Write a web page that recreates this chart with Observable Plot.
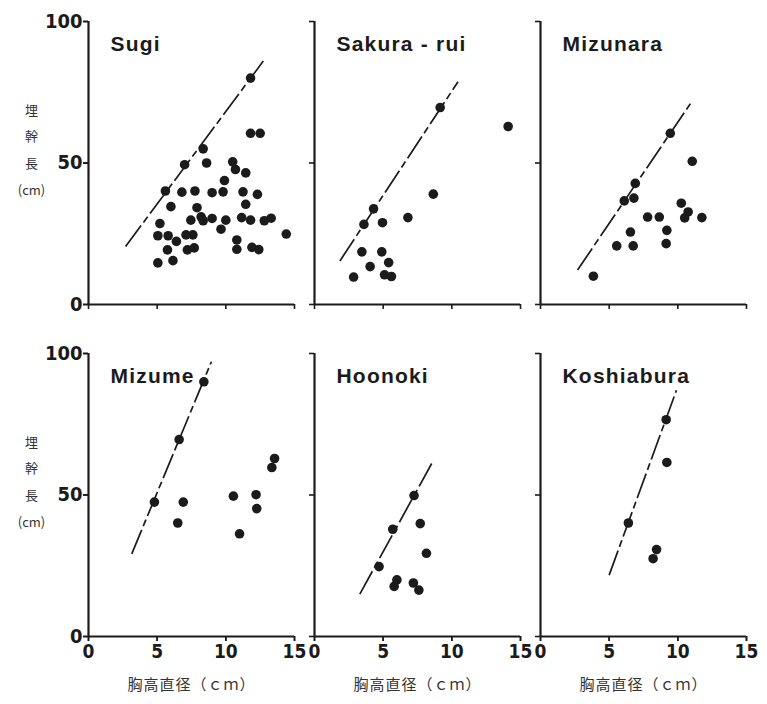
<!DOCTYPE html>
<html><head><meta charset="utf-8">
<script src="https://cdn.jsdelivr.net/npm/d3@7"></script>
<script src="https://cdn.jsdelivr.net/npm/@observablehq/plot@0.6"></script>
<style>
body{margin:0;background:#fff;}
#chart svg{display:block;background:#fff}
g[font-size="21"] text{letter-spacing:1.2px}
g[font-size="15"] text{letter-spacing:1px}
</style></head><body><div id="chart"></div>
<script>
// Panels (species) in reading order
const species = ["Sugi", "Sakura - rui", "Mizunara", "Mizume", "Hoonoki", "Koshiabura"];

// [DBH (cm), buried stem length (cm)]
const sugi = [[11.8,80],[11.8,60.5],[12.5,60.5],[8.35,55],[7.0,49.4],[8.6,50],[10.5,50.4],[10.7,47.7],[11.45,46.5],[9.9,43.8],
  [5.6,40.1],[6.8,39.7],[7.75,40.1],[9.0,39.5],[9.8,39.8],[11.25,39.8],[12.3,38.9],[11.45,35.4],[6.0,34.6],[7.9,34.2],
  [7.45,29.8],[8.2,31.0],[8.35,29.6],[9.0,30.4],[10.0,29.8],[11.15,30.7],[11.8,29.8],[12.8,29.6],[13.3,30.5],[5.2,28.6],
  [9.65,26.6],[5.05,24.3],[5.8,24.3],[7.1,24.6],[7.6,24.6],[6.4,22.3],[10.8,22.8],[14.4,24.9],[5.75,19.3],[7.2,19.3],
  [7.7,20.0],[10.8,19.5],[11.9,20.2],[12.4,19.4],[5.05,14.7],[6.15,15.5]];
const sakura = [[9.15,69.6],[14.1,62.9],[8.65,39.0],[4.3,33.8],[3.6,28.3],[4.95,28.9],[6.8,30.7],[3.45,18.6],[4.9,18.6],
  [5.4,14.8],[4.05,13.4],[2.85,9.7],[5.1,10.5],[5.6,9.9]];
const mizunara = [[9.45,60.5],[11.05,50.6],[6.9,42.8],[6.1,36.6],[6.8,37.6],[10.25,35.8],[10.75,32.7],[10.5,30.6],[7.8,30.9],
  [8.65,30.9],[11.75,30.7],[6.55,25.6],[9.2,26.2],[5.55,20.7],[6.75,20.7],[9.15,21.5],[3.85,10.0]];
const mizume = [[8.4,90],[6.6,69.6],[13.55,62.9],[13.35,59.7],[10.55,49.6],[12.2,50.1],[4.8,47.5],[6.9,47.5],[12.25,45.2],
  [6.5,40.1],[11.0,36.3]];
const hoonoki = [[7.25,49.8],[5.7,37.9],[7.7,39.9],[8.15,29.4],[4.7,24.7],[6.0,20.0],[5.8,17.7],[7.2,18.9],[7.6,16.4]];
const koshiabura = [[9.15,76.6],[9.2,61.5],[6.4,40.1],[8.45,30.7],[8.2,27.5]];
const seriesList = [sugi, sakura, mizunara, mizume, hoonoki, koshiabura];

// Upper-limit lines per panel: [x1, y1, x2, y2]
const fitLines = [[2.7,20.5,12.8,86.5],[1.85,15.4,10.45,78.7],[2.7,12.2,11.0,71.6],
  [3.15,29.2,8.95,97.1],[3.3,15.0,8.6,61.7],[5.0,21.7,9.9,87.0]];

const xTicks = [0, 5, 10, 15];
const yTicks = [0, 50, 100];
const xLabel = "胸高直径（ｃｍ）";
const yLabel = ["埋", "幹", "長", "(cm)"];

const col = i => i % 3, row = i => Math.floor(i / 3);
const points = species.flatMap((s, i) => seriesList[i].map(([d, l]) => ({s, d, l, fx: col(i), fy: row(i)})));
const lines = species.map((s, i) => ({s, x1: fitLines[i][0], y1: fitLines[i][1], x2: fitLines[i][2], y2: fitLines[i][3], fx: col(i), fy: row(i)}));
const titles = species.map((s, i) => ({s, fx: col(i), fy: row(i)}));

const ink = "#1b1b1b";
const numFont = "'Liberation Sans Narrow', 'DejaVu Sans Condensed', 'Liberation Sans', sans-serif";
const jpFont = "'Noto Sans CJK JP', sans-serif";

const chart = Plot.plot({
  width: 767, height: 704,
  marginLeft: 87, marginRight: 19, marginTop: 20, marginBottom: 67,
  facet: {marginTop: 0, marginRight: 0, marginBottom: 0, marginLeft: 0},
  fx: {axis: null, domain: [0, 1, 2], paddingInner: 0.0881, paddingOuter: 0},
  fy: {axis: null, domain: [0, 1], paddingInner: 0.1471, paddingOuter: 0},
  x: {domain: [0, 15], label: null},
  y: {domain: [0, 100], label: null},
  style: {background: "#fff", color: ink},
  marks: [
    Plot.ruleY([0], {stroke: ink, strokeWidth: 2.2}),
    Plot.ruleX([0], {stroke: ink, strokeWidth: 2.2}),
    Plot.axisX({ticks: xTicks, tickSize: 5, strokeWidth: 1.6, tickFormat: () => "", facetAnchor: null, label: null}),
    Plot.axisY({ticks: yTicks, tickSize: 5, strokeWidth: 1.6, tickFormat: () => "", facetAnchor: null, label: null}),
    Plot.axisX({ticks: xTicks, tickSize: 5, tickPadding: 3, strokeWidth: 1.6, facetAnchor: "bottom", label: null,
      fontSize: 19, fontWeight: "bold", fontFamily: numFont}),
    Plot.axisY({ticks: yTicks, tickSize: 5, tickPadding: 1, strokeWidth: 1.6, facetAnchor: "left", label: null,
      fontSize: 20, fontWeight: "bold", fontFamily: numFont}),
    Plot.link(lines, {x1: "x1", y1: "y1", x2: "x2", y2: "y2", fx: "fx", fy: "fy",
      stroke: ink, strokeWidth: 1.7, strokeDasharray: "26,4,7,4"}),
    Plot.dot(points, {x: "d", y: "l", fx: "fx", fy: "fy", r: 4.8, fill: ink, stroke: null}),
    Plot.text(titles, {fx: "fx", fy: "fy", text: "s", frameAnchor: "top-left", dx: 22, dy: 23,
      lineAnchor: "middle", fontSize: 21, fontWeight: "bold", fontFamily: "'Liberation Sans', Arial, sans-serif", fill: ink}),
    Plot.text([0, 1, 2], {fx: d => d, fy: () => 1, text: () => xLabel, frameAnchor: "bottom", dy: 53,
      fontSize: 15, fontFamily: jpFont, fill: "#333"}),
    Plot.text([0, 1], {fx: () => 0, fy: d => d, text: () => yLabel.join("\n"), frameAnchor: "left", dx: -57, dy: -17,
      textAnchor: "middle", lineAnchor: "middle", lineHeight: 2.05, fontSize: 13, fontFamily: jpFont, fill: "#333"})
  ]
});
document.getElementById("chart").append(chart);
</script></body></html>
